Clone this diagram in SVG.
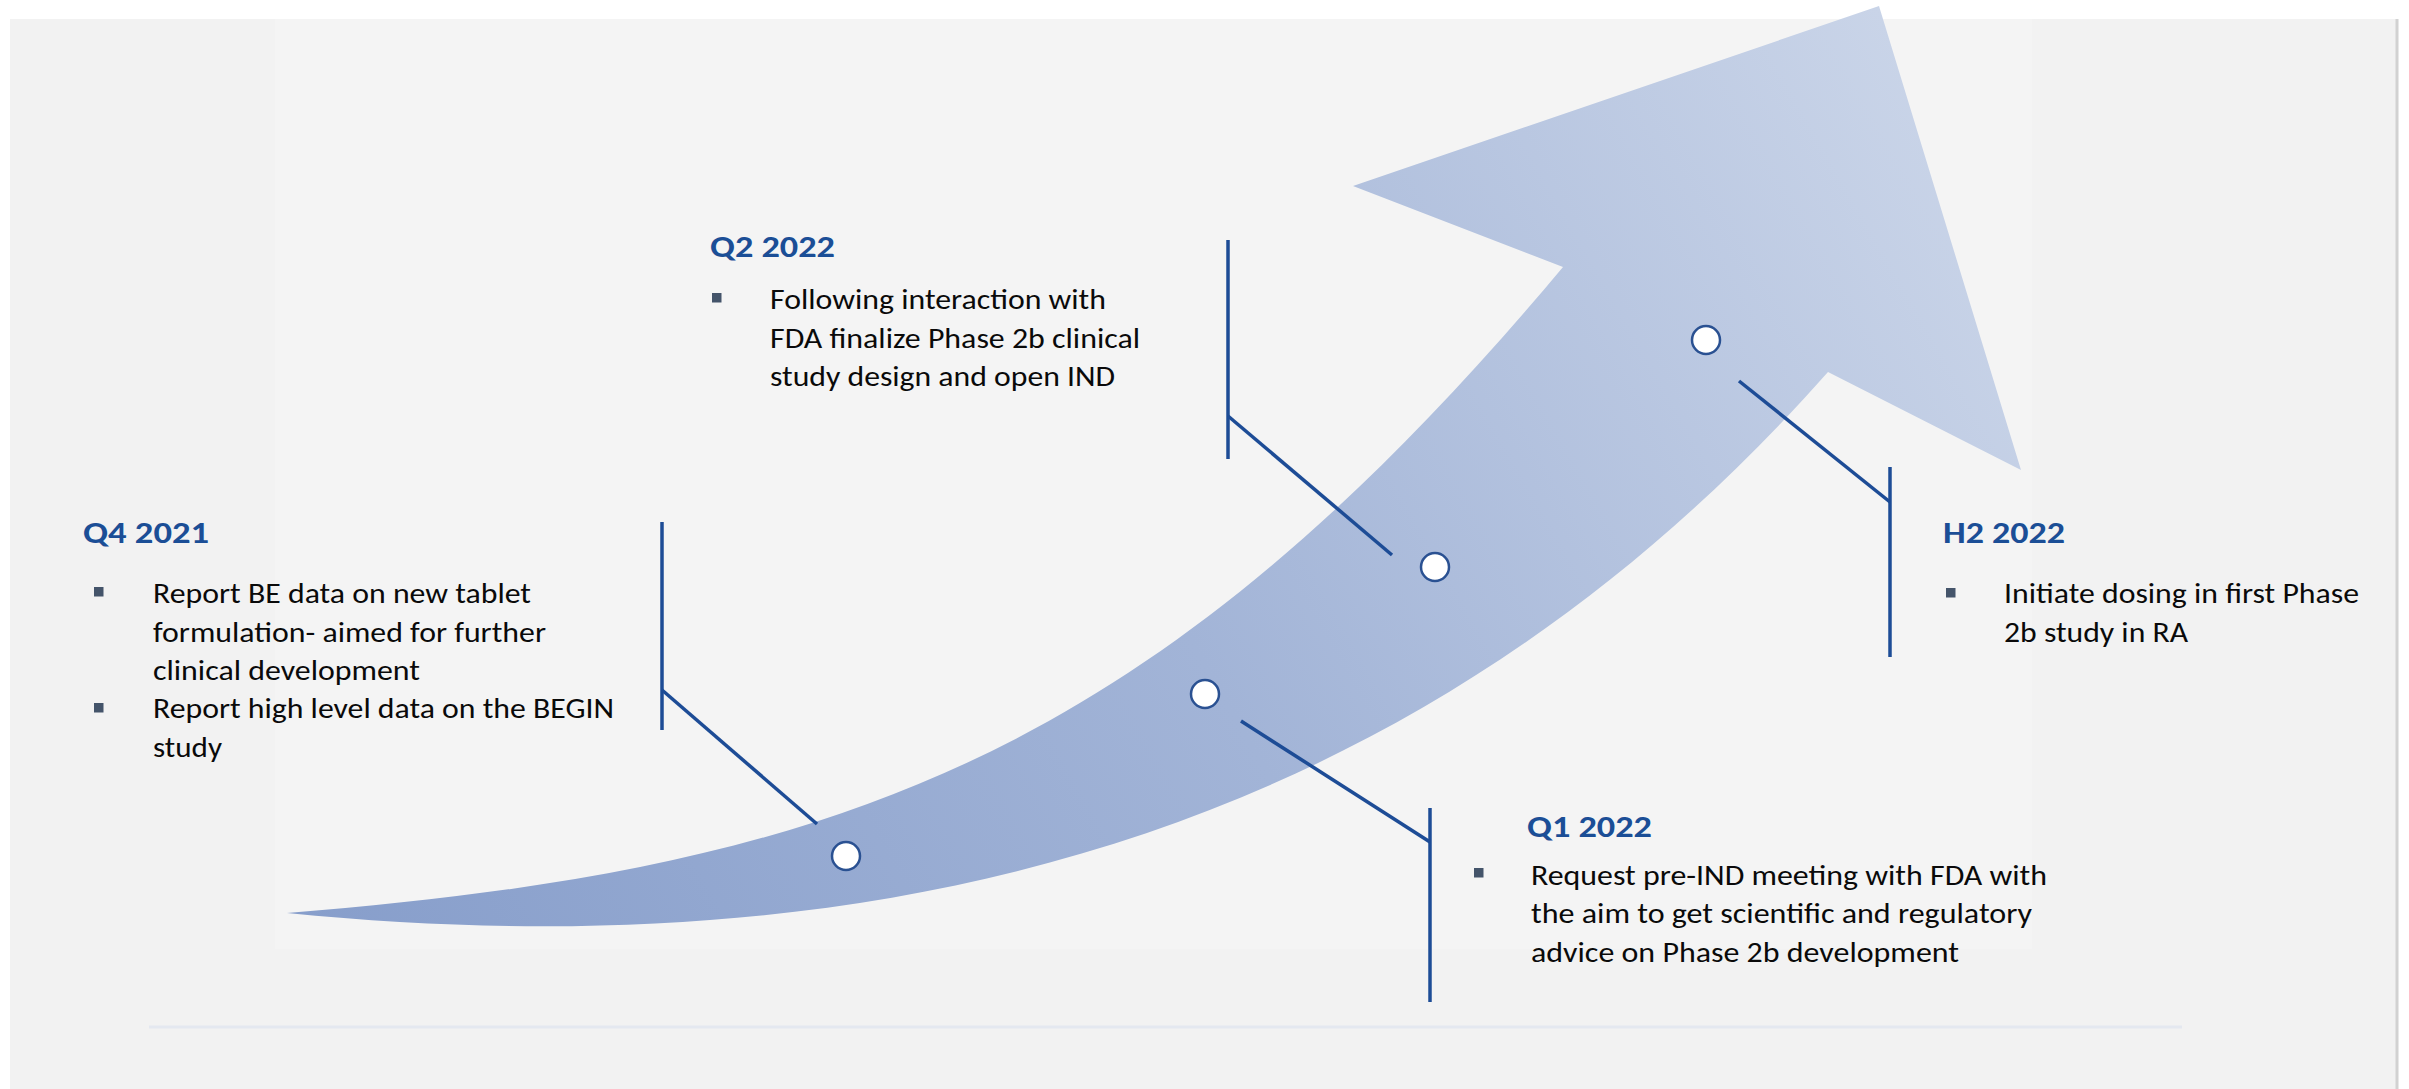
<svg xmlns="http://www.w3.org/2000/svg" width="2409" height="1089" viewBox="0 0 2409 1089">
  <defs>
    <linearGradient id="arrowGrad" gradientUnits="userSpaceOnUse" x1="300" y1="920" x2="1880" y2="10">
      <stop offset="0" stop-color="#879ecb"/>
      <stop offset="0.5" stop-color="#a2b4d7"/>
      <stop offset="1" stop-color="#c9d4e8"/>
    </linearGradient>
    <style>
      .hdr { font-family: Carlito, Lato, "Open Sans", sans-serif; font-weight: 700; font-size: 31px; fill: #1b4e96; }
      .txt { font-family: Carlito, Lato, "Open Sans", sans-serif; font-size: 29px; fill: #0a0a0a; }
      .bul { fill: #44546a; }
      .conn { stroke: #1d4c96; stroke-width: 3.5; fill: none; }
      .dot { fill: #ffffff; stroke: #2a5192; stroke-width: 2.5; }
    </style>
  </defs>

  <!-- background -->
  <rect x="0" y="0" width="2409" height="1089" fill="#ffffff"/>
  <rect x="10" y="19" width="2387" height="1070" fill="#f2f2f2"/>
  <rect x="275" y="19" width="1757" height="930" fill="#f4f4f4"/>
  <line x1="2397" y1="19" x2="2397" y2="1089" stroke="#d2d2d2" stroke-width="3"/>
  <line x1="149" y1="1027" x2="2182" y2="1027" stroke="#e4e8f0" stroke-width="3"/>

  <!-- big curved arrow -->
  <path id="arrow" fill="url(#arrowGrad)"
        d="M287,913 C837,869 1150,760 1563,267 L1353,186 L1879,6 L2021,470 L1828,372 C1428,824 907,975 287,913 Z"/>

  <!-- connectors -->
  <g id="connectors" class="conn">
    <line x1="662" y1="522" x2="662" y2="730"/>
    <line x1="662" y1="690" x2="817" y2="824"/>
    <line x1="1228" y1="240" x2="1228" y2="459"/>
    <line x1="1228" y1="416" x2="1392" y2="555"/>
    <line x1="1430" y1="808" x2="1430" y2="1002"/>
    <line x1="1241" y1="721" x2="1430" y2="842"/>
    <line x1="1890" y1="467" x2="1890" y2="657"/>
    <line x1="1739" y1="381" x2="1890" y2="502"/>
  </g>

  <!-- Q4 2021 -->
  <g id="node-q4">
    <circle class="dot" cx="846" cy="856" r="14"/>
    <text class="hdr" x="83" y="543" textLength="126" lengthAdjust="spacingAndGlyphs">Q4 2021</text>
    <rect class="bul" x="94" y="587" width="9.5" height="9.5"/>
    <rect class="bul" x="94" y="703" width="9.5" height="9.5"/>
    <text class="txt" x="153" y="603" textLength="378" lengthAdjust="spacingAndGlyphs">Report BE data on new tablet</text>
    <text class="txt" x="153" y="642" textLength="393" lengthAdjust="spacingAndGlyphs">formulation- aimed for further</text>
    <text class="txt" x="153" y="680" textLength="267" lengthAdjust="spacingAndGlyphs">clinical development</text>
    <text class="txt" x="153" y="718" textLength="461" lengthAdjust="spacingAndGlyphs">Report high level data on the BEGIN</text>
    <text class="txt" x="153" y="757" textLength="69" lengthAdjust="spacingAndGlyphs">study</text>
  </g>

  <!-- Q1 2022 -->
  <g id="node-q1">
    <circle class="dot" cx="1205" cy="694" r="14"/>
    <text class="hdr" x="1527" y="837" textLength="125" lengthAdjust="spacingAndGlyphs">Q1 2022</text>
    <rect class="bul" x="1474" y="868" width="9.5" height="9.5"/>
    <text class="txt" x="1531" y="885" textLength="516" lengthAdjust="spacingAndGlyphs">Request pre-IND meeting with FDA with</text>
    <text class="txt" x="1531" y="923" textLength="501" lengthAdjust="spacingAndGlyphs">the aim to get scientific and regulatory</text>
    <text class="txt" x="1531" y="962" textLength="428" lengthAdjust="spacingAndGlyphs">advice on Phase 2b development</text>
  </g>

  <!-- Q2 2022 -->
  <g id="node-q2">
    <circle class="dot" cx="1435" cy="567" r="14"/>
    <text class="hdr" x="710" y="257" textLength="125" lengthAdjust="spacingAndGlyphs">Q2 2022</text>
    <rect class="bul" x="712" y="293" width="9.5" height="9.5"/>
    <text class="txt" x="770" y="309" textLength="336" lengthAdjust="spacingAndGlyphs">Following interaction with</text>
    <text class="txt" x="770" y="348" textLength="370" lengthAdjust="spacingAndGlyphs">FDA finalize Phase 2b clinical</text>
    <text class="txt" x="770" y="386" textLength="345" lengthAdjust="spacingAndGlyphs">study design and open IND</text>
  </g>

  <!-- H2 2022 -->
  <g id="node-h2">
    <circle class="dot" cx="1706" cy="340" r="14"/>
    <text class="hdr" x="1943" y="543" textLength="122" lengthAdjust="spacingAndGlyphs">H2 2022</text>
    <rect class="bul" x="1946" y="588" width="9.5" height="9.5"/>
    <text class="txt" x="2004" y="603" textLength="355" lengthAdjust="spacingAndGlyphs">Initiate dosing in first Phase</text>
    <text class="txt" x="2004" y="642" textLength="184" lengthAdjust="spacingAndGlyphs">2b study in RA</text>
  </g>
</svg>
